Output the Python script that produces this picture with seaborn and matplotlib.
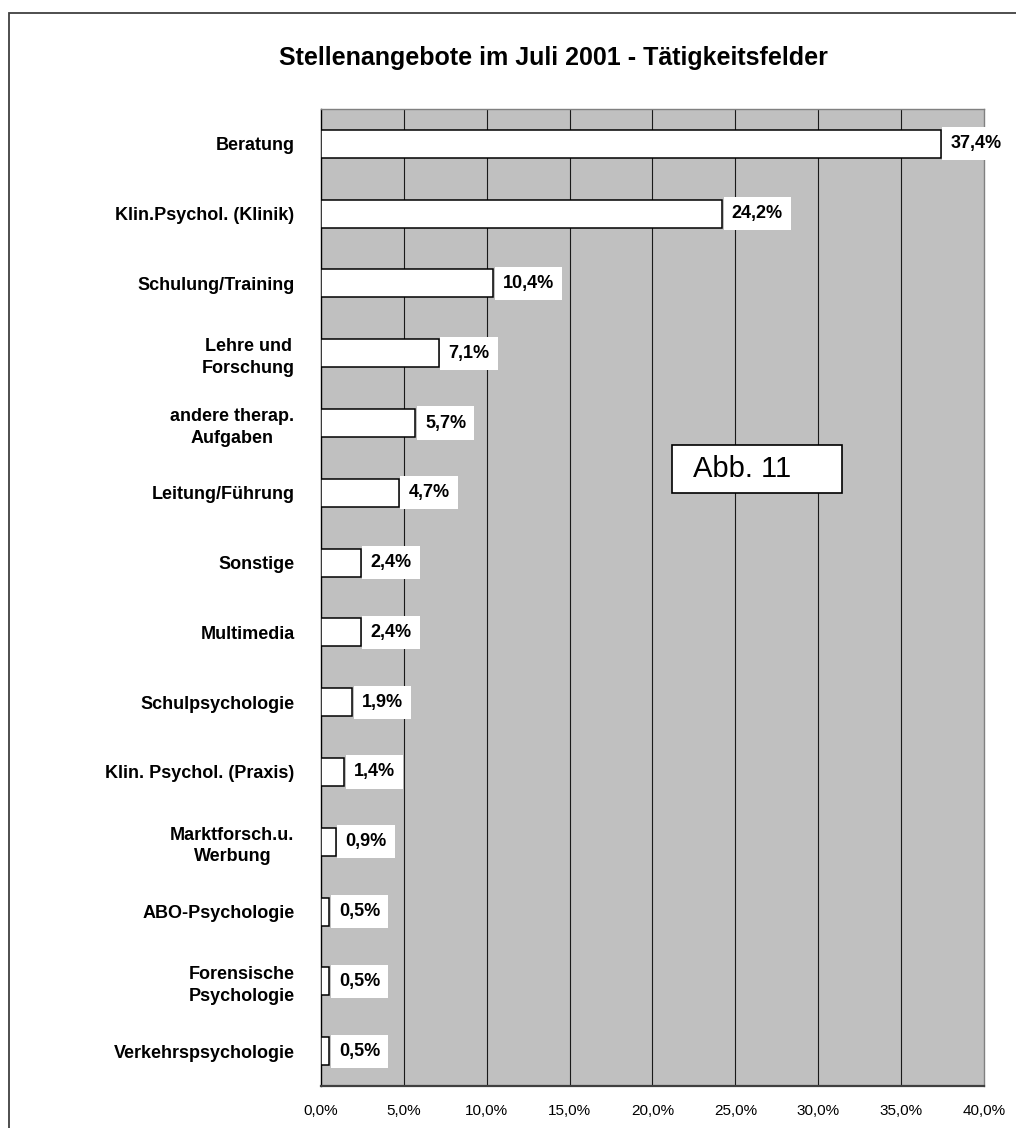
import matplotlib
matplotlib.use("Agg")
import matplotlib.pyplot as plt
import matplotlib.patches as patches
import seaborn as sns
import pandas as pd

# Daten
categories = ["Beratung", "Klin.Psychol. (Klinik)", "Schulung/Training",
              "Lehre und\nForschung", "andere therap.\nAufgaben",
              "Leitung/Führung", "Sonstige", "Multimedia", "Schulpsychologie",
              "Klin. Psychol. (Praxis)", "Marktforsch.u.\nWerbung",
              "ABO-Psychologie", "Forensische\nPsychologie", "Verkehrspsychologie"]
values = [37.4, 24.2, 10.4, 7.1, 5.7, 4.7, 2.4, 2.4, 1.9, 1.4, 0.9, 0.5, 0.5, 0.5]
xticks = [0, 5, 10, 15, 20, 25, 30, 35, 40]

df = pd.DataFrame({"Feld": categories, "Anteil": values})

sns.set_style("white")
plt.rcParams['font.family'] = ['Liberation Sans', 'DejaVu Sans']
plt.rcParams['text.color'] = 'black'
plt.rcParams['xtick.color'] = 'black'
plt.rcParams['ytick.color'] = 'black'

fig = plt.figure(figsize=(10.16, 11.28), dpi=100)
ax = fig.add_axes([0.3159, 0.0372, 0.6526, 0.8662])
ax.set_facecolor("#c0c0c0")

# vertikale Gitterlinien
for t in xticks[1:-1]:
    ax.axvline(t, color="#1a1a1a", lw=0.8, zorder=1)

sns.barplot(data=df, x="Anteil", y="Feld", orient="h", color="white",
            saturation=1, edgecolor="black", linewidth=1.1, width=0.4,
            ax=ax, zorder=3)

ax.set_xlim(0, 40)
ax.set_ylim(len(categories) - 0.5, -0.5)
ax.set_xlabel("")
ax.set_ylabel("")

ax.set_xticks(xticks)
ax.set_xticklabels([("%.1f" % t).replace(".", ",") + "%" for t in xticks], fontsize=11)
ax.tick_params(axis="x", direction="out", length=5, width=0.8, color="black",
               labelcolor="black", pad=8)

ax.set_yticks(range(len(categories)))
ax.set_yticklabels(categories, fontsize=13, fontweight="bold", linespacing=1.35,
                   multialignment="center", color="black")
ax.tick_params(axis="y", length=0, pad=19)
ax.set_yticks([i - 0.5 for i in range(len(categories) + 1)], minor=True)
ax.tick_params(axis="y", which="minor", direction="out", length=8, width=0.8, color="#303030")

for s in ["top", "right"]:
    ax.spines[s].set_color("#808080")
    ax.spines[s].set_linewidth(1)
ax.spines["left"].set_color("black")
ax.spines["left"].set_linewidth(1)
ax.spines["bottom"].set_color("#404040")
ax.spines["bottom"].set_linewidth(1.6)

# Wertebeschriftungen
for i, v in enumerate(values):
    ax.annotate(("%.1f" % v).replace(".", ",") + "%", xy=(v, i), xytext=(7, 0),
                textcoords="offset points", ha="left", va="center", color="black",
                fontsize=13, fontweight="bold", zorder=5, annotation_clip=False,
                bbox=dict(boxstyle="square,pad=0.45", facecolor="white", edgecolor="none"))

# Abb. 11 Kasten
ax.add_patch(patches.Rectangle((0.529, 0.607), 0.257, 0.049, transform=ax.transAxes,
                               facecolor="white", edgecolor="black", lw=1.2, zorder=6))
ax.text(0.561, 0.6315, "Abb. 11", transform=ax.transAxes, ha="left", va="center",
        fontsize=21, color="black", family=['Liberation Sans Narrow', 'Liberation Sans'],
        zorder=7)

fig.text(0.545, 0.9486, "Stellenangebote im Juli 2001 - Tätigkeitsfelder",
         ha="center", va="center", fontsize=18, fontweight="bold", color="black")

# Rahmen um die Grafik
fig.add_artist(patches.Rectangle((9 / 1016, -0.1), 2, 1 - 13 / 1128 + 0.1,
                                 transform=fig.transFigure, fill=False,
                                 edgecolor="#404040", lw=1.3))

fig.savefig("out.png", dpi=100)
